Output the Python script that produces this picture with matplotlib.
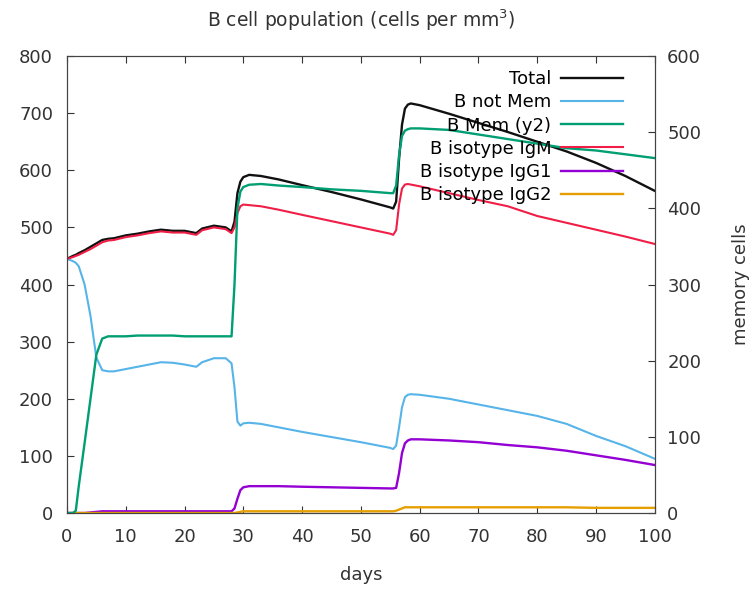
import matplotlib
matplotlib.use('Agg')
import matplotlib.pyplot as plt

# --- data ---
days = [0, 1, 1.5, 2, 3, 4, 5, 6, 7, 8, 10, 12, 14, 16, 18, 20, 22, 23, 25, 27, 28,
        28.5, 29, 29.5, 30, 31, 33, 36, 40, 45, 50, 55, 55.5, 56, 56.5, 57, 57.5, 58,
        58.5, 60, 65, 70, 75, 80, 85, 90, 95, 100]

total = [445, 450, 452, 455, 460, 466, 472, 478, 480, 481, 486, 489, 493, 496, 494, 494,
         490, 498, 503, 500, 493, 510, 560, 580, 588, 592, 590, 584, 574, 562, 549, 535,
         533, 545, 620, 680, 708, 715, 717, 714, 699, 683, 667, 650, 633, 613, 590, 564]

b_not_mem = [445, 441, 438, 432, 400, 345, 272, 250, 248, 248, 252, 256, 260, 264, 263, 260,
             256, 264, 271, 271, 262, 220, 160, 153, 157, 158, 156, 150, 142, 133, 124, 114,
             112, 118, 150, 185, 203, 207, 208, 207, 200, 190, 180, 170, 156, 135, 117, 95]

# memory cells, right axis
b_mem = [0, 0, 3, 35, 92, 150, 208, 229, 232, 232, 232, 233, 233, 233, 233, 232,
         232, 232, 232, 232, 232, 300, 400, 422, 428, 431, 432, 430, 428, 425, 423, 420,
         420, 430, 470, 495, 502, 504, 505, 505, 503, 497, 491, 485, 479, 476, 471, 466]

igm = [445, 448, 450, 452, 457, 462, 468, 474, 477, 478, 483, 486, 490, 493, 491, 491,
       487, 495, 500, 497, 490, 500, 525, 537, 540, 539, 537, 531, 522, 511, 500, 489,
       487, 495, 540, 568, 575, 576, 575, 572, 560, 548, 537, 520, 508, 496, 484, 471]

igg1 = [0, 0, 0, 0, 0, 1, 2, 3, 3, 3, 3, 3, 3, 3, 3, 3,
        3, 3, 3, 3, 3, 8, 25, 40, 45, 47, 47, 47, 46, 45, 44, 43,
        43, 44, 70, 105, 122, 127, 129, 129, 127, 124, 119, 115, 109, 101, 93, 84]

igg2 = [0, 0, 0, 0, 0, 0, 0, 0, 0, 0, 0, 0, 0, 0, 0, 0,
        0, 0, 0, 0, 0, 0, 1, 2, 3, 3, 3, 3, 3, 3, 3, 3,
        3, 4, 6, 8, 10, 10, 10, 10, 10, 10, 10, 10, 10, 9, 9, 9]

plt.rcParams['font.family'] = ['DejaVu Sans']
txt = '#333333'
fs = 13

fig = plt.figure(figsize=(7.5, 5.9), dpi=100)
ax = fig.add_axes([0.0893, 0.1305, 0.7837, 0.7745])
ax2 = ax.twinx()

# --- lines ---
l_tot, = ax.plot(days, total, color='#111111', lw=1.7, label='Total')
l_nm, = ax.plot(days, b_not_mem, color='#56b4e9', lw=1.5, label='B not Mem')
l_igm, = ax.plot(days, igm, color='#f01e46', lw=1.5, label='B isotype IgM')
l_g1, = ax.plot(days, igg1, color='#9400d3', lw=1.7, label='B isotype IgG1')
l_g2, = ax.plot(days, igg2, color='#e69f00', lw=1.7, label='B isotype IgG2')
l_mem, = ax2.plot(days, b_mem, color='#009e73', lw=1.7, label='B Mem (y2)')

# --- axes ---
ax.set_xlim(0, 100)
ax.set_ylim(0, 800)
ax2.set_ylim(0, 600)
ax.set_xticks(range(0, 101, 10))
ax.set_yticks(range(0, 801, 100))
ax2.set_yticks(range(0, 601, 100))

ax.tick_params(axis='x', direction='in', length=5, pad=11, top=True, labelsize=fs, colors=txt)
ax.tick_params(axis='y', direction='in', length=5, pad=10, right=False, labelsize=fs, colors=txt)
ax2.tick_params(axis='y', direction='in', length=5, pad=9, labelsize=fs, colors=txt)
for a in (ax, ax2):
    for s in a.spines.values():
        s.set_color('#444444')

ax.set_title('B cell population (cells per mm$^3$)', fontsize=13.5, color=txt, pad=21)
ax.set_xlabel('days', fontsize=fs, color=txt, labelpad=14)
ax2.set_ylabel('memory cells', fontsize=fs, color=txt, labelpad=22)

handles = [l_tot, l_nm, l_mem, l_igm, l_g1, l_g2]
ax2.legend(handles=handles, loc='upper right', bbox_to_anchor=(0.967, 0.997),
           frameon=False, markerfirst=False, fontsize=fs, handlelength=3.4,
           handletextpad=0.55, labelspacing=0.29, borderaxespad=0.3)

plt.savefig('out.png', dpi=100)
plt.close()
print("Saved out.png")
